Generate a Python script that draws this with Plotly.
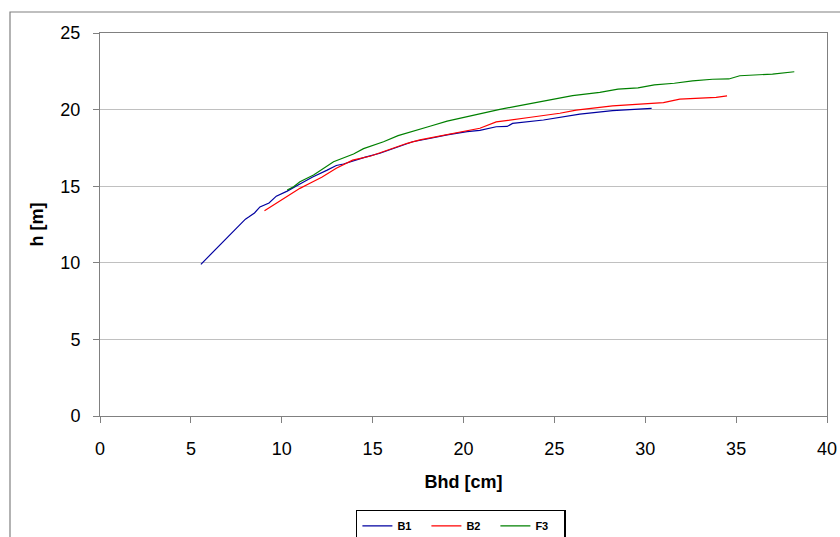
import plotly.graph_objects as go

# Height-diameter curves per stand
b1_bhd = [5.55, 6.5, 7.2, 7.7, 8.0, 8.2, 8.5, 8.8, 9.3, 9.7, 10.3, 11.0, 11.7, 12.5, 13.0, 13.4, 13.9, 14.6,
          15.4, 16.3, 17.2, 18.2, 19.1, 20.2, 20.9, 21.8, 22.4, 22.7, 24.4, 26.4, 28.2, 30.35]
b1_h = [9.9, 11.05, 11.9, 12.55, 12.85, 13.0, 13.25, 13.65, 13.9, 14.35, 14.68, 15.15, 15.6, 16.05, 16.35, 16.45,
        16.65, 16.9, 17.15, 17.55, 17.9, 18.13, 18.35, 18.56, 18.64, 18.88, 18.9, 19.1, 19.32, 19.71, 19.93, 20.08]

b2_bhd = [9.05, 10.1, 11.0, 11.55, 12.2, 13.0, 13.9, 14.9, 15.8, 16.9, 17.6, 18.5, 20.0, 20.9, 21.8, 22.7,
          23.7, 25.3, 26.2, 28.2, 29.7, 31.0, 31.9, 33.4, 33.9, 34.5]
b2_h = [13.4, 14.2, 14.86, 15.19, 15.58, 16.17, 16.7, 16.97, 17.36, 17.8, 18.02, 18.23, 18.56, 18.78, 19.2, 19.32,
        19.5, 19.76, 19.97, 20.24, 20.35, 20.45, 20.68, 20.8, 20.8, 20.9]

f3_bhd = [10.3, 10.65, 11.0, 11.75, 12.85, 13.6, 13.95, 14.5, 15.4, 15.6, 16.4, 17.3, 18.2, 19.1, 20.0, 20.8,
          22.0, 22.8, 24.6, 26.0, 27.5, 28.5, 29.6, 30.5, 31.6, 32.6, 33.7, 34.6, 35.2, 37.0, 38.2]
f3_h = [14.75, 14.97, 15.29, 15.73, 16.6, 16.93, 17.1, 17.45, 17.8, 17.9, 18.3, 18.6, 18.93, 19.25, 19.5, 19.7,
        20.02, 20.19, 20.58, 20.91, 21.13, 21.34, 21.42, 21.61, 21.72, 21.87, 21.98, 22.0, 22.21, 22.32, 22.47]

series = [
    ("B1", b1_bhd, b1_h, "#0000A0"),
    ("B2", b2_bhd, b2_h, "#FF0000"),
    ("F3", f3_bhd, f3_h, "#008000"),
]

x_ticks = [0, 5, 10, 15, 20, 25, 30, 35, 40]
y_ticks = [0, 5, 10, 15, 20, 25]

fig = go.Figure()
for name, xs, ys, color in series:
    fig.add_trace(go.Scatter(x=xs, y=ys, mode="lines", name="<b>" + name + "</b>",
                             line=dict(color=color, width=1.2)))

axis_font = dict(family="Liberation Sans, Arial, sans-serif", size=18, color="black")

fig.update_layout(
    width=840, height=537,
    margin=dict(l=100, r=13, t=33, b=121, autoexpand=False),
    paper_bgcolor="white", plot_bgcolor="white",
    font=axis_font,
    showlegend=True,
    legend=dict(orientation="h", x=0.352, y=-0.245, xanchor="left", yanchor="top",
                bordercolor="black", borderwidth=1.5, bgcolor="white",
                font=dict(family="Liberation Sans, Arial, sans-serif", size=11, color="black"),
                itemwidth=30, entrywidth=24, traceorder="normal"),
    xaxis=dict(range=[0, 40], tickvals=x_ticks, showgrid=False, zeroline=False,
               showline=True, mirror=True, linecolor="#808080", linewidth=1,
               ticks="outside", ticklen=6, tickcolor="#808080", ticklabelstandoff=10,
               title=dict(text="<b>Bhd [cm]</b>", font=axis_font, standoff=17)),
    yaxis=dict(range=[0, 25], tickvals=y_ticks, showgrid=True, gridcolor="#C0C0C0", gridwidth=1,
               zeroline=False, showline=True, mirror=True, linecolor="#808080", linewidth=1,
               ticks="outside", ticklen=6, tickcolor="#808080", ticklabelstandoff=9,
               title=dict(text="<b>h [m]</b>", font=axis_font, standoff=12)),
)

# Outer chart frame
fig.add_shape(type="rect", xref="paper", yref="paper",
              x0=-0.1238, x1=1.06, y0=-0.40, y1=1.0548,
              line=dict(color="#808080", width=1.2), fillcolor="rgba(0,0,0,0)", layer="below")

fig.write_html("out.html")
